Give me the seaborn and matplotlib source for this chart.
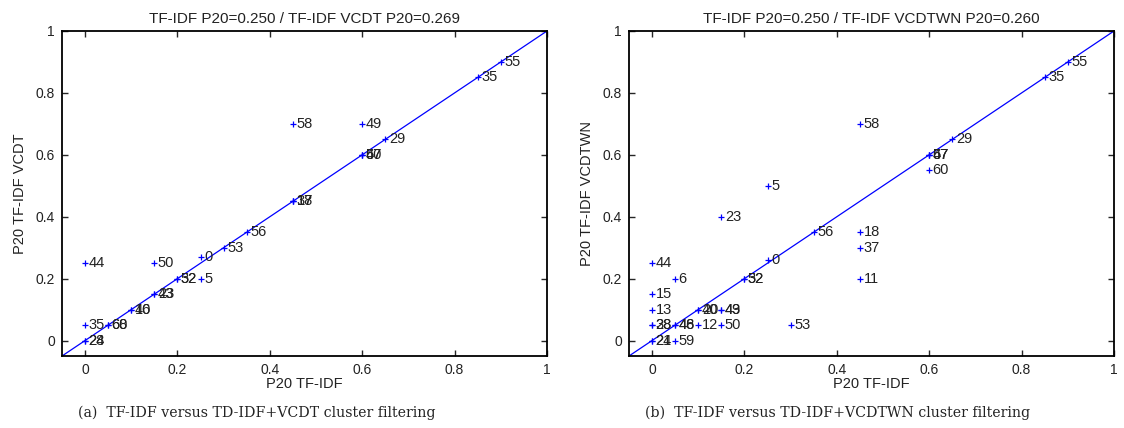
import matplotlib
matplotlib.use("Agg")
import matplotlib.pyplot as plt
import seaborn as sns
import pandas as pd

# panel (a): TF-IDF vs TF-IDF VCDT, one entry per query
a_x = [0.45, 0.60, 0.65, 0.85, 0.90, 0.60, 0.60, 0.60, 0.45, 0.45, 0.45, 0.35, 0.30,
       0.25, 0.15, 0.00, 0.20, 0.20, 0.25, 0.15, 0.15, 0.10, 0.10, 0.05, 0.05, 0.00,
       0.00, 0.00]
a_y = [0.70, 0.70, 0.65, 0.85, 0.90, 0.60, 0.60, 0.60, 0.45, 0.45, 0.45, 0.35, 0.30,
       0.27, 0.25, 0.25, 0.20, 0.20, 0.20, 0.15, 0.15, 0.10, 0.10, 0.05, 0.05, 0.05,
       0.00, 0.00]
a_lab = ["58", "49", "29", "35", "55", "60", "47", "57", "17", "18", "37", "56", "53",
         "0", "50", "44", "32", "52", "5", "23", "43", "40", "16", "68", "60", "35",
         "28", "24"]

# panel (b): TF-IDF vs TF-IDF VCDTWN
b_x = [0.45, 0.65, 0.85, 0.90, 0.60, 0.60, 0.60, 0.60, 0.45, 0.45, 0.45, 0.25, 0.15,
       0.35, 0.25, 0.20, 0.20, 0.00, 0.05, 0.00, 0.00, 0.10, 0.10, 0.15, 0.15, 0.00,
       0.00, 0.05, 0.05, 0.10, 0.15, 0.30, 0.00, 0.00, 0.05]
b_y = [0.70, 0.65, 0.85, 0.90, 0.60, 0.60, 0.60, 0.55, 0.35, 0.30, 0.20, 0.50, 0.40,
       0.35, 0.26, 0.20, 0.20, 0.25, 0.20, 0.15, 0.10, 0.10, 0.10, 0.10, 0.10, 0.05,
       0.05, 0.05, 0.05, 0.05, 0.05, 0.05, 0.00, 0.00, 0.00]
b_lab = ["58", "29", "35", "55", "47", "57", "67", "60", "18", "37", "11", "5", "23",
         "56", "0", "32", "52", "44", "6", "15", "13", "40", "20", "49", "43", "28",
         "38", "48", "46", "12", "50", "53", "24", "21", "59"]

titles = ["TF-IDF P20=0.250 / TF-IDF VCDT P20=0.269",
          "TF-IDF P20=0.250 / TF-IDF VCDTWN P20=0.260"]
ylabels = ["P20 TF-IDF VCDT", "P20 TF-IDF VCDTWN"]
captions = ["(a)  TF-IDF versus TD-IDF+VCDT cluster filtering",
            "(b)  TF-IDF versus TD-IDF+VCDTWN cluster filtering"]
ticks = [0, 0.2, 0.4, 0.6, 0.8, 1]
tick_labels = ["0", "0.2", "0.4", "0.6", "0.8", "1"]

sns.set_style("ticks")
plt.rcParams['font.family'] = ['Liberation Sans', 'DejaVu Sans']

fig = plt.figure(figsize=(11.24, 4.28), dpi=100)
lefts = [62 / 1124, 629 / 1124]
panels = [(a_x, a_y, a_lab), (b_x, b_y, b_lab)]
ink = "#222222"

for i, (xs, ys, labs) in enumerate(panels):
    ax = fig.add_axes([lefts[i], 1 - 356 / 428, 485 / 1124, 325 / 428])
    df = pd.DataFrame({"x": xs, "y": ys, "label": labs})
    ax.axline((0, 0), slope=1, color="blue", lw=0.9, zorder=1)
    sns.scatterplot(data=df, x="x", y="y", marker="+", color="blue", s=22,
                    linewidth=0.9, ax=ax, zorder=2)
    for _, r in df.iterrows():
        ax.annotate(r["label"], (r["x"], r["y"]), xytext=(2.5, 0),
                    textcoords="offset points", va="center", ha="left",
                    fontsize=10.5, color=ink)
    ax.set_xlim(-0.05, 1)
    ax.set_ylim(-0.05, 1)
    ax.set_xticks(ticks)
    ax.set_xticklabels(tick_labels)
    ax.set_yticks(ticks)
    ax.set_yticklabels(tick_labels)
    ax.tick_params(direction="in", top=True, right=True, length=4, width=1,
                   labelsize=10, pad=5, labelcolor=ink)
    for sp in ax.spines.values():
        sp.set_linewidth(1.3)
        sp.set_color("black")
    ax.set_xlabel("P20 TF-IDF", fontsize=10.5, labelpad=0, color=ink)
    ax.set_ylabel(ylabels[i], fontsize=10.5, labelpad=6, color=ink)
    ax.set_title(titles[i], fontsize=11, pad=6, color=ink)
    fig.text(lefts[i] + 16 / 1124, 1 - 413 / 428, captions[i],
             family="DejaVu Serif", fontsize=10.2, va="center", ha="left",
             color=ink)

fig.savefig("out.png", dpi=100)
